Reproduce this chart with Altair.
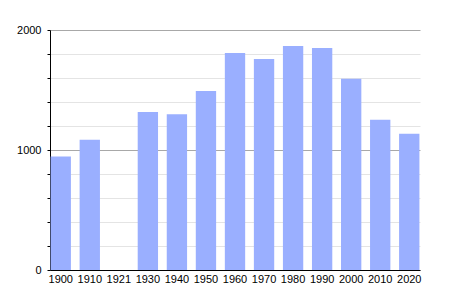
import altair as alt
import pandas as pd

years = ["1900", "1910", "1921", "1930", "1940", "1950", "1960", "1970", "1980", "1990", "2000", "2010", "2020"]
population = [945, 1085, None, 1317, 1297, 1492, 1808, 1758, 1867, 1850, 1594, 1253, 1136]

df = pd.DataFrame({"year": years, "pop": population})

chart = alt.Chart(df).mark_bar(color="#9aafff").encode(
    x=alt.X("year:N", sort=years, title=None,
            scale=alt.Scale(domain=years, paddingInner=0.3, paddingOuter=0.02),
            axis=alt.Axis(labelAngle=0, ticks=False, domainColor="black", labelColor="black",
                          labelFontSize=11, labelFont="Liberation Sans", labelPadding=3,
                          zindex=1, grid=False)),
    y=alt.Y("pop:Q", title=None,
            scale=alt.Scale(domain=[0, 2000], nice=False),
            axis=alt.Axis(values=list(range(0, 2001, 200)),
                          labelExpr="datum.value % 1000 === 0 ? datum.label : ''",
                          format="d",
                          tickSize=3, tickColor="black", domainColor="black",
                          labelColor="black", labelFontSize=11, labelFont="Liberation Sans",
                          labelPadding=6,
                          grid=True,
                          gridColor=alt.ExprRef("datum.value % 1000 === 0 ? '#a8a8a8' : '#e4e4e4'"))),
).properties(
    width=370, height=240,
    autosize=alt.AutoSizeParams(type="none"),
    padding={"left": 50, "top": 30, "right": 30, "bottom": 30},
).configure_view(stroke=None)

chart.save("out.html", embed_options={"renderer": "svg", "actions": False})
